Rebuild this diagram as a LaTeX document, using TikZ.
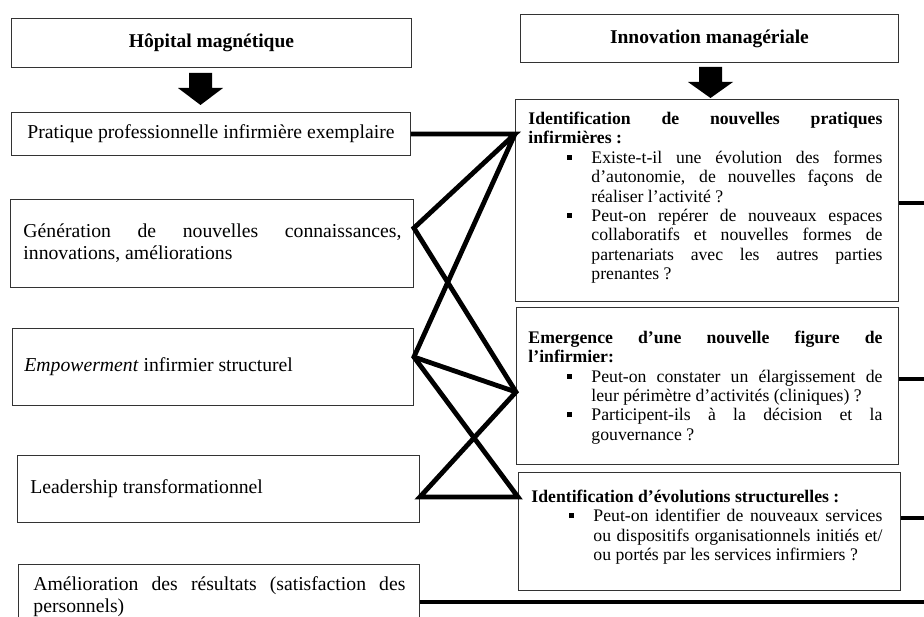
\documentclass[tikz,border=0pt]{standalone}
\usepackage{fontspec}
\setmainfont{Liberation Serif}
\usetikzlibrary{calc}
\newcommand\bul{\rule[3.6pt]{5pt}{5pt}}
\newcommand\bitem[2]{\par{\hangindent=#1\hangafter=0\noindent\llap{\bul\hspace{19.5pt}}#2\par}}
\newcommand\lset{\tolerance=10000\hyphenpenalty=10000\exhyphenpenalty=10000\parindent=0pt\parfillskip=0pt plus 1fil\relax}
\newcommand\rfont{\fontsize{17.7pt}{19.4pt}\selectfont}
\newcommand\lfont{\fontsize{19.7pt}{22pt}\selectfont}
\tikzset{
  box/.style={draw=black!80, line width=0.9pt, inner sep=0pt, anchor=north west},
  head/.style={box, font=\bfseries\fontsize{19.5pt}{22pt}\selectfont},
  conn/.style={line width=4.8pt, black, line join=miter},
  blockarrow/.style={fill=black}
}
\begin{document}
\begin{tikzpicture}[x=1pt,y=-1pt]
\fill[white] (0,0) rectangle (924,617);
\useasboundingbox (0,0) rectangle (924,617);

% headers
\node[head, minimum width=400pt, minimum height=49pt] (hop) at (11,18) {Hôpital magnétique};
\node[head, minimum width=378pt, minimum height=48pt] (inno) at (520,14) {Innovation managériale};

% block arrows
\fill[blockarrow] (189,73) -- (212,73) -- (212,88) -- (223,88) -- (200.5,105) -- (178,88) -- (189,88) -- cycle;
\fill[blockarrow] (699,67) -- (722,67) -- (722,82) -- (733,82) -- (710.5,98) -- (688,82) -- (699,82) -- cycle;

% left boxes
\node[box] (prat) at (11,112) {\parbox[c][43pt][c]{399pt}{\lfont\lset\leftskip=16pt\rightskip=10pt Pratique professionnelle infirmière exemplaire}};
\node[box] (gen) at (10,199) {\parbox[c][88pt][c]{403pt}{\lfont\lset\leftskip=13pt\rightskip=12pt Génération de nouvelles connaissances,\linebreak innovations, améliorations}};
\node[box] (emp) at (12,328) {\parbox[c][77pt][c]{401pt}{\lfont\lset\leftskip=12pt\rightskip=10pt \textit{Empowerment} infirmier structurel}};
\node[box] (lead) at (17,455) {\parbox[c][67pt][c]{402pt}{\lfont\lset\leftskip=13pt\rightskip=10pt Leadership transformationnel}};
\node[box] (ame) at (18,564) {\parbox[c][80pt][t]{401pt}{\lfont\lset\leftskip=15pt\rightskip=14pt\vspace*{4pt}\prevdepth=0pt Amélioration des résultats (satisfaction des\linebreak personnels)}};

% right boxes
\node[box] (b1) at (515,99) {\parbox[c][202pt][t]{383pt}{\rfont\lset\leftskip=13pt\rightskip=16pt
\vspace*{5.6pt}\prevdepth=0pt
\textbf{Identification de nouvelles pratiques\linebreak infirmières~:}\par
\bitem{63pt}{Existe-t-il une évolution des formes\linebreak d’autonomie, de nouvelles façons de\linebreak réaliser l’activité~?}
\bitem{63pt}{Peut-on repérer de nouveaux espaces\linebreak collaboratifs et nouvelles formes de\linebreak partenariats avec les autres parties\linebreak prenantes~?}}};

\node[box] (b2) at (516,307) {\parbox[c][157pt][t]{382pt}{\rfont\lset\leftskip=12pt\rightskip=16pt
\vspace*{16.5pt}\prevdepth=0pt
\textbf{Emergence d’une nouvelle figure de\linebreak l’infirmier:}\par
\bitem{63pt}{Peut-on constater un élargissement de\linebreak leur périmètre d’activités (cliniques)~?}
\bitem{63pt}{Participent-ils à la décision et la\linebreak gouvernance~?}}};

\node[box] (b3) at (518,472) {\parbox[c][118pt][t]{382pt}{\rfont\lset\leftskip=13pt\rightskip=18pt
\vspace*{10.5pt}\prevdepth=0pt
\textbf{Identification d’évolutions structurelles~:}\par
\bitem{62pt}{Peut-on identifier de nouveaux services\linebreak ou dispositifs organisationnels initiés et/\linebreak ou portés par les services infirmiers~?}}};

% connection points
\coordinate (P1) at (b1.west |- prat.east);
\coordinate (G) at ($(gen.north east)+(0,29)$);
\coordinate (E) at ($(emp.north east)+(0,29)$);
\coordinate (L) at ($(lead.north east)+(0,42)$);
\coordinate (Em) at ($(b2.north west)+(0,85)$);
\coordinate (I) at ($(b3.north west)+(0,25)$);
\coordinate (R1) at (924,203);
\coordinate (R2) at (924,379);
\coordinate (R3) at (924,518);
\coordinate (R4) at (924,602);

% connectors
\draw[conn] (prat.east) -- (P1) -- (G) -- (Em) -- (L) -- (I) -- (E) -- (P1);
\draw[conn] (E) -- (Em);
\draw[conn] (b1.east |- R1) -- (R1);
\draw[conn] (b2.east |- R2) -- (R2);
\draw[conn] (b3.east |- R3) -- (R3);
\draw[conn] (ame.east |- R4) -- (R4);
\end{tikzpicture}
\end{document}
